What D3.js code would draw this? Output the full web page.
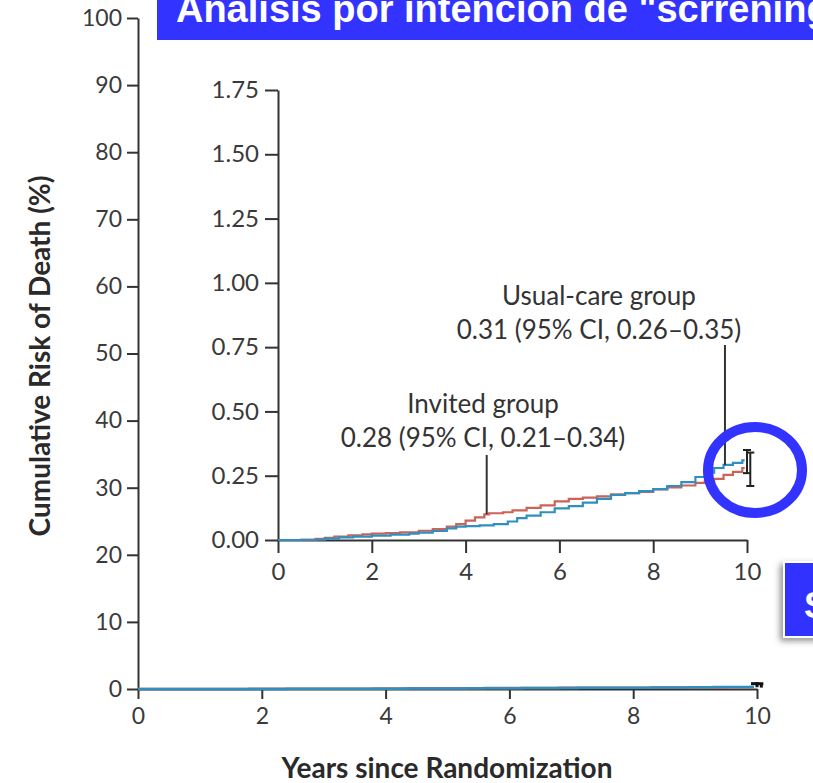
<!DOCTYPE html>
<html><head><meta charset="utf-8">
<script src="https://cdn.jsdelivr.net/npm/d3@7"></script>
<style>body{margin:0;background:#fff}svg{display:block}</style>
</head><body>
<svg id="c" width="813" height="783"></svg>
<script>
// ---------- data ----------
const mainXTicks = [0, 2, 4, 6, 8, 10];
const mainYTicks = [0, 10, 20, 30, 40, 50, 60, 70, 80, 90, 100];
const insetXTicks = [0, 2, 4, 6, 8, 10];
const insetYTicks = [0, 0.25, 0.5, 0.75, 1.0, 1.25, 1.5, 1.75];
const insetYTickLabels = ["0.00", "0.25", "0.50", "0.75", "1.00", "1.25", "1.50", "1.75"];

const invitedYears = [0, 0.5, 0.8, 1.0, 1.2, 1.5, 1.8, 2.0, 2.3, 2.6, 3.0, 3.3, 3.6, 3.8, 4.0, 4.2, 4.4, 4.5, 4.8, 5.0, 5.3, 5.6, 5.9, 6.2, 6.5, 6.8, 7.1, 7.4, 7.7, 8.0, 8.3, 8.6, 8.9, 9.1, 9.3, 9.5, 9.7, 9.9, 9.95];
const invitedRisk  = [0, 0.001, 0.004, 0.008, 0.013, 0.018, 0.022, 0.025, 0.027, 0.030, 0.036, 0.042, 0.052, 0.062, 0.075, 0.088, 0.100, 0.104, 0.108, 0.115, 0.125, 0.135, 0.150, 0.160, 0.165, 0.170, 0.178, 0.182, 0.187, 0.197, 0.205, 0.212, 0.222, 0.228, 0.238, 0.253, 0.265, 0.280, 0.280];

const usualYears = [0, 0.5, 1.0, 1.3, 1.6, 2.0, 2.4, 2.8, 3.0, 3.3, 3.6, 3.8, 4.0, 4.3, 4.6, 4.9, 5.1, 5.3, 5.6, 5.9, 6.2, 6.5, 6.8, 7.1, 7.4, 7.7, 8.0, 8.3, 8.6, 8.9, 9.1, 9.3, 9.5, 9.7, 9.9, 9.95];
const usualRisk  = [0, 0.001, 0.005, 0.010, 0.013, 0.017, 0.021, 0.025, 0.029, 0.035, 0.045, 0.052, 0.054, 0.057, 0.062, 0.072, 0.085, 0.095, 0.108, 0.123, 0.132, 0.145, 0.160, 0.175, 0.182, 0.190, 0.198, 0.210, 0.225, 0.245, 0.262, 0.280, 0.292, 0.300, 0.310, 0.310];

const groupNames = ["Invited group", "Usual-care group"];
const groupEstimate = [0.28, 0.31];
const groupLower = [0.21, 0.26];
const groupUpper = [0.34, 0.35];
const ciYears = [10.07, 10.0];
const leaderYears = [4.45, 9.53];

const titleText = 'Análisis por intención de "scrrening"';
const sideText = "S";
const xTitle = "Years since Randomization";
const yTitle = "Cumulative Risk of Death (%)";

// ---------- drawing ----------
const svg = d3.select("#c");
const ink = "#333";
const font = "Lato, 'Noto Sans', sans-serif";
const red = "#cc6258", blue = "#2f8fc0", bannerBlue = "#3333ff";

const series = [
  {years: invitedYears, risk: invitedRisk, color: red},
  {years: usualYears, risk: usualRisk, color: blue}
];

function styleAxis(g, size) {
  g.selectAll("path.domain").attr("stroke", ink).attr("stroke-width", 2);
  g.selectAll(".tick line").attr("stroke", ink).attr("stroke-width", 2);
  g.selectAll(".tick text").attr("fill", "#3a3a3a").style("font-family", font).style("font-size", size + "px");
}

// main chart
const mx = d3.scaleLinear().domain([0, 10]).range([138, 757]);
const my = d3.scaleLinear().domain([0, 100]).range([689, 18]);

svg.append("g").attr("transform", `translate(0,${my(0)})`)
  .call(d3.axisBottom(mx).tickValues(mainXTicks).tickSize(10).tickSizeOuter(0).tickPadding(9))
  .call(g => styleAxis(g, 23));
svg.append("g").attr("transform", `translate(${mx(0)},0)`)
  .call(d3.axisLeft(my).tickValues(mainYTicks).tickSize(11).tickSizeOuter(0).tickPadding(5))
  .call(g => styleAxis(g, 23));

const mainLine = d3.line().curve(d3.curveStepAfter).x(d => mx(d[0])).y(d => my(d[1]));
series.forEach(s => {
  svg.append("path").datum(d3.zip(s.years, s.risk)).attr("d", mainLine)
    .attr("fill", "none").attr("stroke", s.color).attr("stroke-width", 2.5);
});
groupEstimate.forEach((e, i) => {
  const x = mx(ciYears[i]);
  svg.append("line").attr("x1", x).attr("x2", x).attr("y1", my(groupLower[i])).attr("y2", my(groupUpper[i]) - 3)
    .attr("stroke", "#111").attr("stroke-width", 3);
  svg.append("line").attr("x1", x - 6).attr("x2", x + 2).attr("y1", my(groupUpper[i]) - 3).attr("y2", my(groupUpper[i]) - 3)
    .attr("stroke", "#111").attr("stroke-width", 3);
});

svg.append("text").attr("x", 447).attr("y", 778).attr("text-anchor", "middle")
  .style("font-family", font).style("font-weight", 700).style("font-size", "28px").attr("fill", "#2a2a2a").text(xTitle);
svg.append("text").attr("transform", `translate(50,356) rotate(-90)`).attr("text-anchor", "middle")
  .style("font-family", font).style("font-weight", 700).style("font-size", "28px").attr("fill", "#2a2a2a").text(yTitle);

// inset chart
const ix = d3.scaleLinear().domain([0, 10]).range([278, 747]);
const iy = d3.scaleLinear().domain([0, 1.75]).range([540, 90]);

svg.append("g").attr("transform", `translate(0,${iy(0)})`)
  .call(d3.axisBottom(ix).tickValues(insetXTicks).tickSize(13).tickSizeOuter(0).tickPadding(10))
  .call(g => styleAxis(g, 24));
svg.append("g").attr("transform", `translate(${ix(0)},0)`)
  .call(d3.axisLeft(iy).tickValues(insetYTicks).tickFormat((d, i) => insetYTickLabels[i]).tickSize(13).tickSizeOuter(0).tickPadding(6))
  .call(g => styleAxis(g, 24));

const insetLine = d3.line().curve(d3.curveStepAfter).x(d => ix(d[0])).y(d => iy(d[1]));
series.forEach(s => {
  svg.append("path").datum(d3.zip(s.years, s.risk)).attr("d", insetLine)
    .attr("fill", "none").attr("stroke", s.color).attr("stroke-width", 2.2);
});

// confidence intervals at 10 years
groupEstimate.forEach((e, i) => {
  const x = ix(ciYears[i]);
  const g = svg.append("g").attr("stroke", "#222").attr("stroke-width", 2);
  g.append("line").attr("x1", x).attr("x2", x).attr("y1", iy(groupLower[i])).attr("y2", iy(groupUpper[i]));
  [groupLower[i], groupUpper[i]].forEach(v =>
    g.append("line").attr("x1", x - 4).attr("x2", x + 4).attr("y1", iy(v)).attr("y2", iy(v)));
});

// annotations with leader lines
function riskAt(s, t) {
  const i = d3.bisectRight(s.years, t) - 1;
  return s.risk[Math.max(0, i)];
}
const annot = [
  {cx: 483, y1: 413, top: 455, s: series[0]},
  {cx: 599, y1: 305, top: 345, s: series[1]}
];
annot.forEach((a, i) => {
  const t = svg.append("text").attr("text-anchor", "middle").attr("fill", ink)
    .style("font-family", font).style("font-size", "26px");
  t.append("tspan").attr("x", a.cx).attr("y", a.y1).text(groupNames[i]);
  t.append("tspan").attr("x", a.cx).attr("y", a.y1 + 34)
    .text(`${groupEstimate[i].toFixed(2)} (95% CI, ${groupLower[i].toFixed(2)}–${groupUpper[i].toFixed(2)})`);
  const lx = ix(leaderYears[i]);
  svg.append("line").attr("x1", lx).attr("x2", lx).attr("y1", a.top).attr("y2", iy(riskAt(a.s, leaderYears[i])))
    .attr("stroke", ink).attr("stroke-width", 2);
});

// highlight circle
svg.append("ellipse").attr("cx", 755).attr("cy", 470).attr("rx", 47).attr("ry", 43)
  .attr("fill", "none").attr("stroke", bannerBlue).attr("stroke-width", 10);

// title banner
svg.append("rect").attr("x", 157).attr("y", -5).attr("width", 700).attr("height", 45).attr("fill", bannerBlue);
svg.append("text").attr("x", 176).attr("y", 22).attr("fill", "#fff")
  .style("font-family", "'Liberation Sans', Arial, sans-serif").style("font-weight", 700).style("font-size", "38px")
  .text(titleText);

// side banner
const defs = svg.append("defs");
const f = defs.append("filter").attr("id", "sh").attr("x", "-50%").attr("y", "-50%").attr("width", "200%").attr("height", "200%");
f.append("feDropShadow").attr("dx", -3).attr("dy", 3).attr("stdDeviation", 3).attr("flood-color", "#777").attr("flood-opacity", 0.8);
svg.append("rect").attr("x", 784).attr("y", 562).attr("width", 60).attr("height", 75)
  .attr("fill", bannerBlue).attr("stroke", "#fff").attr("stroke-width", 2).attr("filter", "url(#sh)");
svg.append("text").attr("x", 804).attr("y", 618).attr("fill", "#fff")
  .style("font-family", "'Liberation Sans', Arial, sans-serif").style("font-weight", 700).style("font-size", "36px")
  .text(sideText);
</script>
</body></html>
